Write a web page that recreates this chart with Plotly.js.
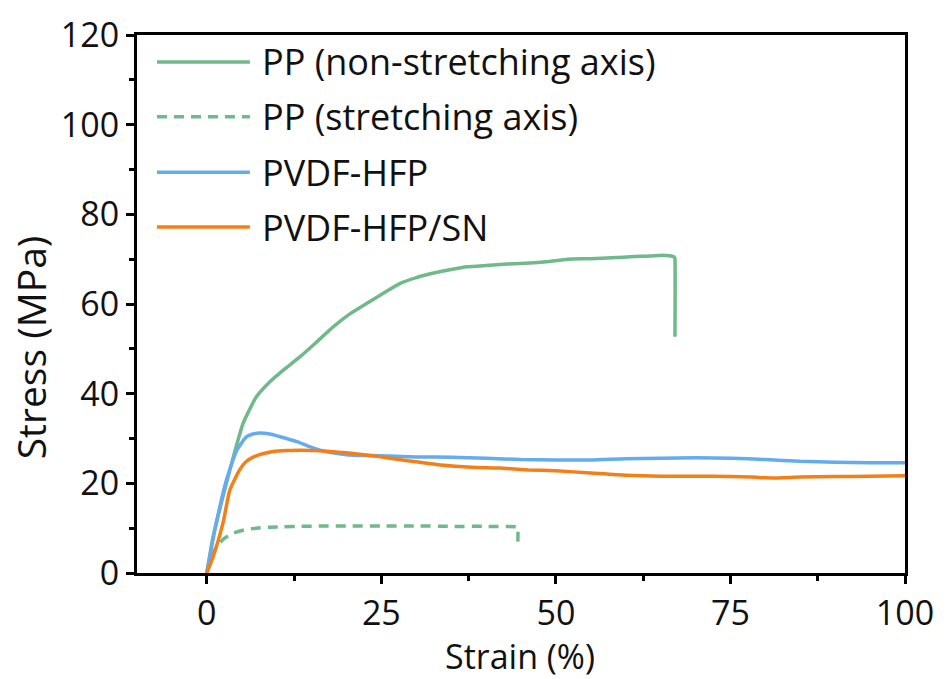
<!DOCTYPE html>
<html>
<head>
<meta charset="utf-8">
<script src="https://cdn.plot.ly/plotly-3.0.1.min.js"></script>
<style>html,body{margin:0;padding:0;background:#fff;}#chart{width:946px;height:679px;}</style>
</head>
<body>
<div id="chart"></div>
<script>
// Series names
const seriesNames = ["PP (non-stretching axis)", "PP (stretching axis)", "PVDF-HFP", "PVDF-HFP/SN"];

// PP (non-stretching axis)
const ppNonX = [0, 0.9, 2.3, 3.8, 5.2, 7.1, 9, 11, 13.4, 15.5, 18.1, 20.5, 23, 25.5, 27.7, 30, 32.5, 35, 37.3, 40, 43, 46.9, 49, 51.7, 55, 58, 61.3, 63.5, 65.1, 66.5, 67, 67.05, 67.05];
const ppNonY = [0, 8.1, 17, 25.9, 33.4, 39.3, 42.6, 45.3, 48.3, 51.2, 54.9, 57.8, 60.2, 62.6, 64.6, 65.9, 66.9, 67.7, 68.3, 68.6, 68.9, 69.2, 69.5, 70, 70.1, 70.3, 70.6, 70.7, 70.9, 70.7, 70.4, 70.1, 52.7];

// PP (stretching axis)
const ppStrX = [0, 0.6, 1.4, 2.5, 3.8, 5.3, 7.1, 9, 11, 13.5, 16.7, 20, 25, 30, 35, 40, 44.5, 44.55, 44.55];
const ppStrY = [0, 3.2, 5.9, 7.7, 8.9, 9.6, 10, 10.2, 10.3, 10.4, 10.5, 10.5, 10.5, 10.5, 10.4, 10.4, 10.3, 10.2, 7];

// PVDF-HFP
const pvdfX = [0, 1.15, 2.8, 4.3, 5.7, 6.6, 7.6, 9, 10.5, 12.9, 14.5, 16.2, 18, 20, 23, 26, 30, 35, 40, 45, 50, 55, 60, 65, 70, 75, 80, 85, 90, 95, 100];
const pvdfY = [0, 9.6, 20.7, 27.4, 30.4, 31, 31.2, 31, 30.4, 29.3, 28.3, 27.4, 26.8, 26.4, 26.2, 26.1, 25.9, 25.8, 25.6, 25.3, 25.2, 25.2, 25.5, 25.6, 25.7, 25.6, 25.3, 24.9, 24.7, 24.6, 24.6];

// PVDF-HFP/SN
const snX = [0, 0.9, 2.3, 3.3, 4.7, 5.6, 6.7, 8, 9.5, 11.5, 13.4, 15.5, 17.7, 20, 22.5, 24.9, 28, 33.5, 38, 42, 46, 50, 55, 60, 65, 70, 75, 78, 81, 85, 90, 95, 100];
const snY = [0, 3.6, 11, 18.5, 23, 24.8, 25.9, 26.6, 27.1, 27.3, 27.4, 27.3, 27.1, 26.8, 26.4, 25.9, 25.2, 24.1, 23.6, 23.4, 23, 22.8, 22.3, 21.8, 21.6, 21.6, 21.5, 21.4, 21.2, 21.4, 21.5, 21.6, 21.7];

// Tick labels
const xTicks = [0, 25, 50, 75, 100];
const yTicks = [0, 20, 40, 60, 80, 100, 120];
const xTitle = "Strain (%)";
const yTitle = "Stress (MPa)";

const GREEN = "#6fb98b", BLUE = "#64acef", ORANGE = "#f57f17";
const FONT = "Open Sans, Noto Sans, sans-serif";
const TXT = "#111";

const lineStyle = (c, d) => ({color: c, width: 3.5, dash: d || "solid", shape: "spline", smoothing: 0.5});
const traces = [
  {x: ppNonX, y: ppNonY, name: seriesNames[0], mode: "lines", line: lineStyle(GREEN)},
  {x: ppStrX, y: ppStrY, name: seriesNames[1], mode: "lines", line: lineStyle(GREEN, "10px,7px")},
  {x: pvdfX, y: pvdfY, name: seriesNames[2], mode: "lines", line: lineStyle(BLUE)},
  {x: snX, y: snY, name: seriesNames[3], mode: "lines", line: lineStyle(ORANGE)}
];

// custom legend (long line samples)
const legendColors = [GREEN, GREEN, BLUE, ORANGE];
const legendDash = ["solid", "10px,7px", "solid", "solid"];
const legendY = [0.950, 0.848, 0.745, 0.643];
const shapes = [], annotations = [];
for (let i = 0; i < 4; i++) {
  shapes.push({type: "line", xref: "paper", yref: "paper", x0: 0.026, x1: 0.147, y0: legendY[i], y1: legendY[i],
    line: {color: legendColors[i], width: 3.5, dash: legendDash[i]}});
  annotations.push({xref: "paper", yref: "paper", x: 0.160, y: legendY[i], xanchor: "left", yanchor: "middle",
    text: seriesNames[i], showarrow: false, font: {family: FONT, size: 36, color: TXT}});
}
// axis titles
annotations.push({xref: "paper", yref: "paper", x: -0.139, y: 0.42, xanchor: "center", yanchor: "middle",
  textangle: -90, text: yTitle, showarrow: false, font: {family: FONT, size: 39, color: TXT}});
annotations.push({xref: "paper", yref: "paper", x: 0.499, y: -0.1545, xanchor: "center", yanchor: "middle",
  text: xTitle, showarrow: false, borderpad: 0, font: {family: FONT, size: 34, color: TXT}});

const axisCommon = {
  ticks: "outside", ticklen: 8, tickwidth: 3, tickcolor: "#000",
  showline: true, linewidth: 3, linecolor: "#000", mirror: true,
  showgrid: false, zeroline: false,
  tickfont: {family: FONT, size: 34, color: TXT}
};

const layout = {
  width: 946, height: 679,
  margin: {l: 137, r: 41, t: 35, b: 106},
  paper_bgcolor: "#fff", plot_bgcolor: "#fff",
  showlegend: false,
  font: {family: FONT, color: TXT},
  xaxis: Object.assign({}, axisCommon, {
    range: [-10, 100], tickvals: xTicks, ticktext: xTicks.map(String),
    minor: {dtick: 12.5, tick0: 0, ticks: "outside", ticklen: 5, tickwidth: 3, tickcolor: "#000"}
  }),
  yaxis: Object.assign({}, axisCommon, {
    range: [0, 120], tickvals: yTicks, ticktext: yTicks.map(String),
    minor: {dtick: 10, tick0: 0, ticks: "outside", ticklen: 5, tickwidth: 3, tickcolor: "#000"}
  }),
  shapes: shapes,
  annotations: annotations
};

Plotly.newPlot("chart", traces, layout, {displayModeBar: false, staticPlot: true});
</script>
</body>
</html>
